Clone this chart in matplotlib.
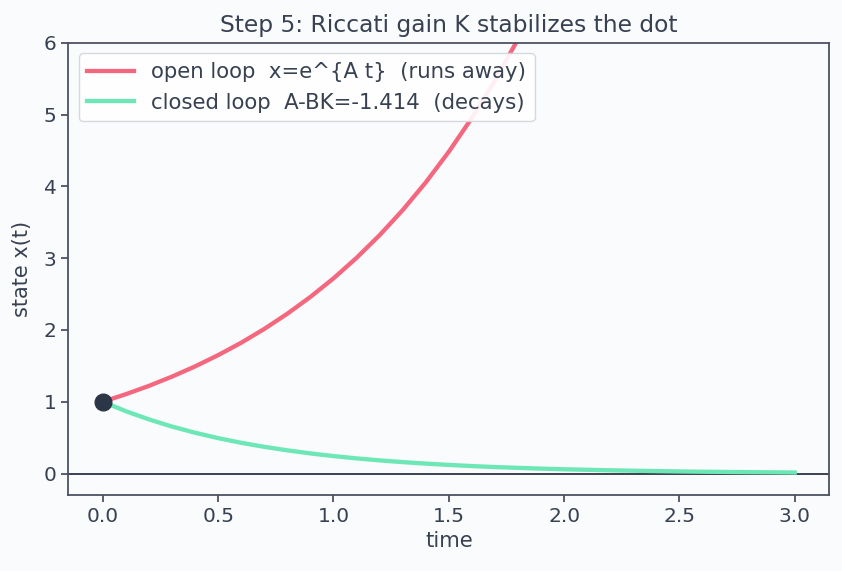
import matplotlib
matplotlib.use("Agg")
import matplotlib.pyplot as plt

t_open = [0.0, 0.1, 0.2, 0.3, 0.4, 0.5, 0.6, 0.7, 0.8, 0.9, 1.0,
          1.1, 1.2, 1.3, 1.4, 1.5, 1.6, 1.7, 1.8, 1.9]
x_open = [1.000, 1.105, 1.221, 1.350, 1.492, 1.649, 1.822, 2.014, 2.226, 2.460, 2.718,
          3.004, 3.320, 3.669, 4.055, 4.482, 4.953, 5.474, 6.050, 6.686]

t_closed = [0.0, 0.1, 0.2, 0.3, 0.4, 0.5, 0.6, 0.7, 0.8, 0.9, 1.0,
            1.1, 1.2, 1.3, 1.4, 1.5, 1.6, 1.7, 1.8, 1.9, 2.0,
            2.1, 2.2, 2.3, 2.4, 2.5, 2.6, 2.7, 2.8, 2.9, 3.0]
x_closed = [1.000, 0.868, 0.754, 0.654, 0.568, 0.493, 0.428, 0.372, 0.323, 0.280, 0.243,
            0.211, 0.183, 0.159, 0.138, 0.120, 0.104, 0.090, 0.079, 0.068, 0.059,
            0.052, 0.045, 0.039, 0.034, 0.029, 0.025, 0.022, 0.019, 0.017, 0.014]

start_t, start_x = 0.0, 1.0

text_color = "#374151"
spine_color = "#4b5263"
bg = "#fafbfd"

plt.rcParams["font.family"] = ["DejaVu Sans"]
plt.rcParams["text.color"] = text_color
plt.rcParams["axes.labelcolor"] = text_color
plt.rcParams["xtick.color"] = spine_color
plt.rcParams["ytick.color"] = spine_color
plt.rcParams["xtick.labelcolor"] = text_color
plt.rcParams["ytick.labelcolor"] = text_color

fig, ax = plt.subplots(figsize=(8.42, 5.71), dpi=100)
fig.patch.set_facecolor(bg)
ax.set_facecolor(bg)
fig.subplots_adjust(left=0.081, right=0.985, top=0.925, bottom=0.133)

ax.axhline(0, color="#2d3440", lw=1.3, zorder=1)
ax.plot(t_open, x_open, color="#f4687f", lw=3.1, label="open loop  x=e^{A t}  (runs away)", zorder=2)
ax.plot(t_closed, x_closed, color="#6ee7b7", lw=3.1, label="closed loop  A-BK=-1.414  (decays)", zorder=2)
ax.plot([start_t], [start_x], "o", color="#2b3648", ms=12, zorder=3)

ax.set_xlim(-0.15, 3.15)
ax.set_ylim(-0.3, 6)
ax.set_xticks([0.0, 0.5, 1.0, 1.5, 2.0, 2.5, 3.0])
ax.set_yticks([0, 1, 2, 3, 4, 5, 6])
ax.tick_params(labelsize=14.5, length=5, width=1.3)

for s in ax.spines.values():
    s.set_color(spine_color)
    s.set_linewidth(1.3)

ax.set_title("Step 5: Riccati gain K stabilizes the dot", fontsize=16.8, color=text_color, pad=8)
ax.set_xlabel("time", fontsize=15.3)
ax.set_ylabel("state x(t)", fontsize=15, labelpad=8)

leg = ax.legend(loc="upper left", fontsize=15.3, handlelength=2.2, framealpha=0.9,
                edgecolor="#d1d5db", labelcolor=text_color)

fig.savefig("out.png", dpi=100, facecolor=bg)
